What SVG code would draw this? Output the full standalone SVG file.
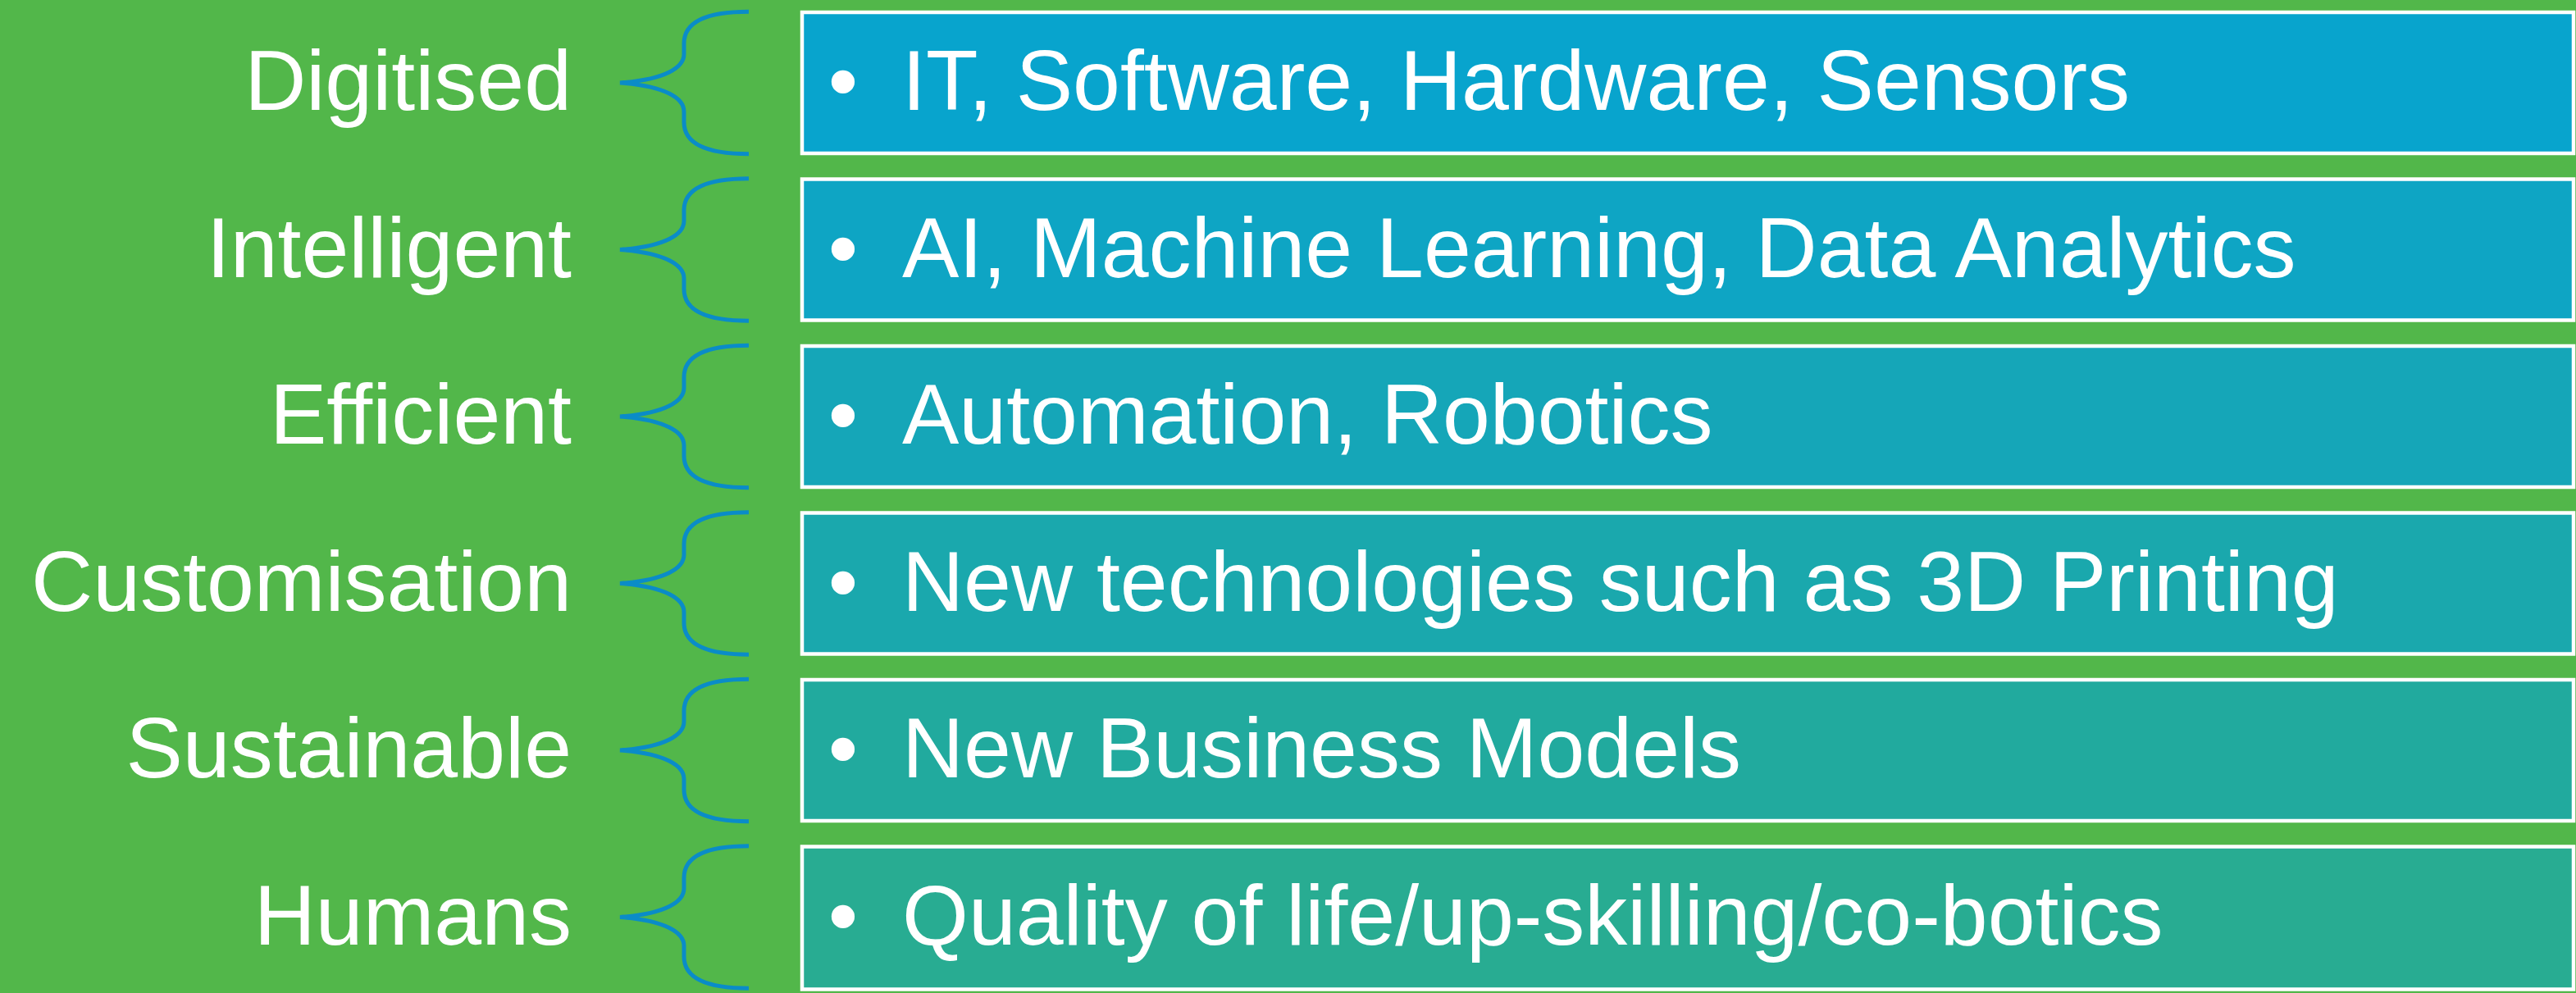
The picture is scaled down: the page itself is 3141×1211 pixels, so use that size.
<svg xmlns="http://www.w3.org/2000/svg" width="3141" height="1211" viewBox="0 0 3141 1211">
<defs>
<style>
.bg{fill:#52b74a}
.box{stroke:#ffffff;stroke-width:4.5}
.lbl{font-family:"Liberation Sans",Arial,sans-serif;font-size:104px;fill:#ffffff;text-anchor:end}
.txt{font-family:"Liberation Sans",Arial,sans-serif;font-size:104px;fill:#ffffff}
.bul{font-family:"Liberation Sans",Arial,sans-serif;font-size:104px;fill:#ffffff;text-anchor:middle}
.brace{fill:none;stroke:#0a8cc8;stroke-width:5}
</style>
<path id="br" d="M913,14.3 C868,14.3 834,24 834,53 L834,66 C834,82 812,97 756,101 C812,105 834,120 834,136 L834,149 C834,178 868,187.7 913,187.7"/>
</defs>
<rect class="bg" x="0" y="0" width="3141" height="1211"/>
<g id="connectors">
<use href="#br" class="brace"/>
<use href="#br" class="brace" transform="translate(0,203.5)"/>
<use href="#br" class="brace" transform="translate(0,407)"/>
<use href="#br" class="brace" transform="translate(0,610.5)"/>
<use href="#br" class="brace" transform="translate(0,814)"/>
<use href="#br" class="brace" transform="translate(0,1017.5)"/>
</g>
<g id="row1">
<text class="lbl" x="697" y="134">Digitised</text>
<rect class="box" x="978" y="15" width="2160" height="172" fill="#08a4cd"/>
<text class="bul" x="1028" y="134">•</text>
<text class="txt" x="1100" y="134">IT, Software, Hardware, Sensors</text>
</g>
<g id="row2">
<text class="lbl" x="697" y="337.5">Intelligent</text>
<rect class="box" x="978" y="218.5" width="2160" height="172" fill="#0ea5c4"/>
<text class="bul" x="1028" y="337.5">•</text>
<text class="txt" x="1100" y="337.5">AI, Machine Learning, Data Analytics</text>
</g>
<g id="row3">
<text class="lbl" x="697" y="541">Efficient</text>
<rect class="box" x="978" y="422" width="2160" height="172" fill="#15a6b8"/>
<text class="bul" x="1028" y="541">•</text>
<text class="txt" x="1100" y="541">Automation, Robotics</text>
</g>
<g id="row4">
<text class="lbl" x="697" y="744.5">Customisation</text>
<rect class="box" x="978" y="625.5" width="2160" height="172" fill="#1aa8ad"/>
<text class="bul" x="1028" y="744.5">•</text>
<text class="txt" x="1100" y="744.5">New technologies such as 3D Printing</text>
</g>
<g id="row5">
<text class="lbl" x="697" y="948">Sustainable</text>
<rect class="box" x="978" y="829" width="2160" height="172" fill="#21aa9e"/>
<text class="bul" x="1028" y="948">•</text>
<text class="txt" x="1100" y="948">New Business Models</text>
</g>
<g id="row6">
<text class="lbl" x="697" y="1151.5">Humans</text>
<rect class="box" x="978" y="1032.5" width="2160" height="174" fill="#28ac92"/>
<text class="bul" x="1028" y="1151.5">•</text>
<text class="txt" x="1100" y="1151.5">Quality of life/up-skilling/co-botics</text>
</g>
</svg>
